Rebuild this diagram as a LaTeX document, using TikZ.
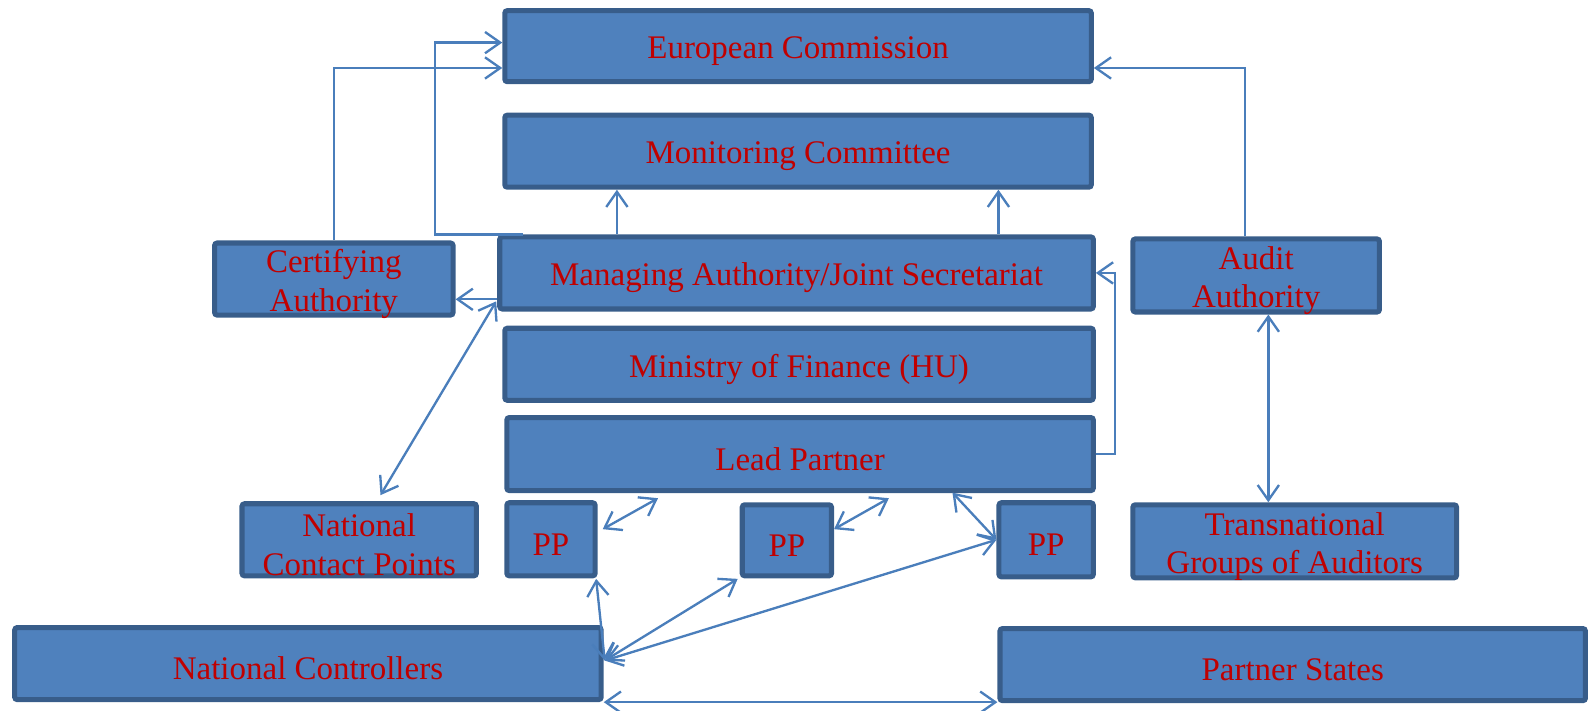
\documentclass[tikz,border=0pt]{standalone}
\usepackage{fontspec}
\setmainfont{Liberation Serif}
\usetikzlibrary{arrows.meta,calc}
\definecolor{boxfill}{HTML}{4F81BD}
\definecolor{boxline}{HTML}{385D8A}
\definecolor{txtred}{HTML}{C00000}
\definecolor{conncol}{HTML}{4A7EBB}
\newcommand\mybox[6]{\node[box, minimum width={#4-#2-5}, minimum height={#5-#3-5},
  label={[boxtext]center:#6}] (#1) at ({(#2+#4)/2},{(#3+#5)/2}) {};}
\begin{document}
\begin{tikzpicture}[x=1pt,y=-1pt,
  box/.style={draw=boxline, fill=boxfill, line width=5pt, rounded corners=2.5pt, inner sep=0pt},
  boxtext/.style={text=txtred, font=\fontsize{32.5}{38}\selectfont, align=center, inner sep=0pt, yshift=-5pt},
  conn/.style={draw=conncol, line width=2.3pt},
  oneway/.style={conn, -{Straight Barb[length=15pt,width=21pt]}},
  twoway/.style={conn, {Straight Barb[length=15pt,width=21pt]}-{Straight Barb[length=15pt,width=21pt]}}]
\useasboundingbox (0,0) rectangle (1568,700);
\mybox{ec}{495}{8}{1078}{83}{European Commission}
\mybox{mc}{495}{111}{1078}{187}{Monitoring Committee}
\mybox{ma}{490}{231}{1080}{307}{Managing Authority/Joint Secretariat}
\mybox{mf}{495}{321}{1080}{397}{Ministry of Finance (HU)}
\mybox{lp}{497}{409}{1080}{486}{Lead Partner}
\mybox{ca}{209}{237}{449}{313}{Certifying\\Authority}
\mybox{aa}{1114}{233}{1362}{310}{Audit\\Authority}
\mybox{ncp}{236}{494}{472}{570}{National\\Contact Points}
\mybox{ppa}{497}{493}{589}{570}{PP}
\mybox{ppb}{729}{495}{822}{570}{PP}
\mybox{ppc}{982}{493}{1080}{571}{PP}
\mybox{tga}{1114}{495}{1438}{572}{Transnational\\Groups of Auditors}
\mybox{nc}{12}{616}{595}{692}{National Controllers}
\mybox{ps}{983}{617}{1565}{693}{Partner States}
% helper coordinates
\coordinate (a1) at (608,0);
\coordinate (a2) at (984,0);
\coordinate (a3) at (1250,0);
\coordinate (nce) at (596,651);
\coordinate (maL) at (489,297);
\coordinate (ncpT) at (375,488);
\coordinate (lpA) at (648.5,491);
\coordinate (lpB) at (876,491);
\coordinate (lpC) at (938.7,485.5);
\coordinate (ppaR) at (594,521.5);
\coordinate (ppbR) at (822,521.5);
\coordinate (ppcL) at (982,532);
\coordinate (ppaB) at (587.5,570.5);
\coordinate (ppbB) at (727,570.5);
\coordinate (caq) at ($(ca.east)+(0,20)$);
% connectors
\draw[oneway] (ca.north) |- ($(ec.west)+(0,21.5)$);
\draw[oneway] ([xshift=25pt]ma.north west) -- ++(-86,0) |- ($(ec.west)+(0,-3.5)$);
\draw[oneway] (a1 |- ma.north) -- (a1 |- mc.south);
\draw[oneway] (a2 |- ma.north) -- (a2 |- mc.south);
\draw[oneway] ([xshift=-11pt]aa.north) |- ($(ec.east)+(0,21.5)$);
\draw[oneway] (ma.west |- caq) -- (caq);
\draw[twoway] (maL) -- (ncpT);
\draw[oneway] (lp.east) -- ++(19,0) |- (ma.east);
\draw[twoway] (a3 |- aa.south) -- (a3 |- tga.north);
\draw[twoway] (ppaR) -- (lpA);
\draw[twoway] (ppbR) -- (lpB);
\draw[twoway] (lpC) -- (ppcL);
\draw[twoway] (nce) -- (ppaB);
\draw[twoway] (nce) -- (ppbB);
\draw[twoway] (nce) -- (ppcL);
\draw[twoway] (nc.south east) -- (nc.south east -| ps.west);
\end{tikzpicture}
\end{document}
